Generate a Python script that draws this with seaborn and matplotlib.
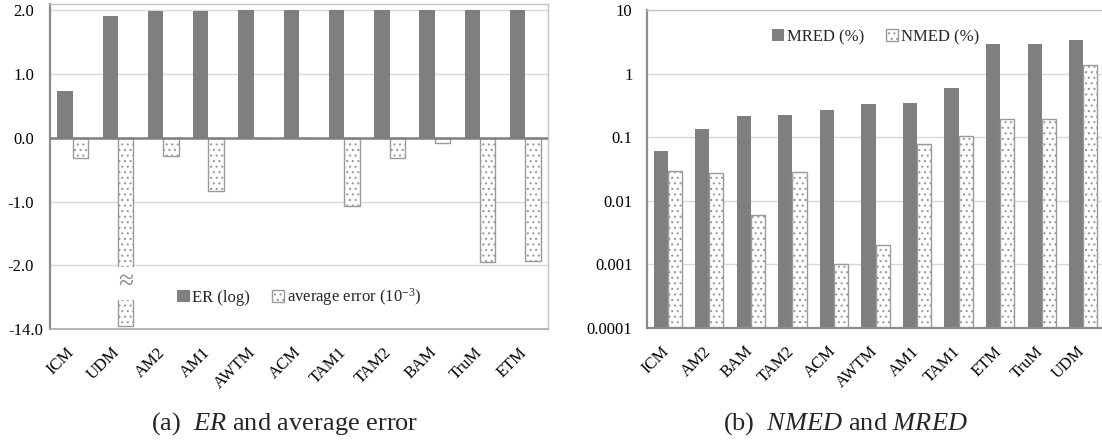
import numpy as np
import pandas as pd
import matplotlib
matplotlib.use("Agg")
import matplotlib.pyplot as plt
import seaborn as sns
from matplotlib.patches import Rectangle
from matplotlib.ticker import NullLocator
from matplotlib.transforms import ScaledTranslation

# ---- data -------------------------------------------------------------
er_methods = ["ICM", "UDM", "AM2", "AM1", "AWTM", "ACM", "TAM1", "TAM2", "BAM", "TruM", "ETM"]
er_log = [0.73, 1.91, 1.99, 1.99, 2.0, 2.0, 2.0, 2.0, 2.0, 2.0, 2.0]
avg_error = [-0.31, -13.4, -0.29, -0.83, 0.0, -0.01, -1.07, -0.31, -0.08, -1.95, -1.93]
er_yticks = [-14.0, -2.0, -1.0, 0.0, 1.0, 2.0]
er_yticklabels = ["-14.0", "-2.0", "-1.0", "0.0", "1.0", "2.0"]

red_methods = ["ICM", "AM2", "BAM", "TAM2", "ACM", "AWTM", "AM1", "TAM1", "ETM", "TruM", "UDM"]
mred = [0.060, 0.134, 0.214, 0.222, 0.266, 0.334, 0.340, 0.586, 2.90, 2.90, 3.36]
nmed = [0.029, 0.027, 0.006, 0.028, 0.001, 0.002, 0.079, 0.105, 0.195, 0.195, 1.38]
red_yticks = [1e-4, 1e-3, 1e-2, 1e-1, 1, 10]
red_yticklabels = ["0.0001", "0.001", "0.01", "0.1", "1", "10"]

ER_LABEL = "ER (log)"
AVG_LABEL = "average error (10$^{-3}$)"
MRED_LABEL = "MRED (%)"
NMED_LABEL = "NMED (%)"

# ---- style ------------------------------------------------------------
sns.set_theme(style="white")
plt.rcParams["font.family"] = ["Liberation Serif", "DejaVu Serif"]
plt.rcParams["mathtext.fontset"] = "custom"
plt.rcParams["mathtext.rm"] = "Liberation Serif"
plt.rcParams["mathtext.it"] = "Liberation Serif:italic"
plt.rcParams["hatch.linewidth"] = 0.8

DARK = "#7f7f7f"
EDGE = "#9a9a9a"
GRID = "#d9d9d9"
SPINE_DARK = "#8c8c8c"
SPINE_LIGHT = "#c4c4c4"
TICK_FS = 12

W, H = 1102, 442
fig = plt.figure(figsize=(W / 100, H / 100), dpi=100)
ax1 = fig.add_axes([50 / W, 113 / H, 498 / W, 325 / H])
ax2 = fig.add_axes([647 / W, 114 / H, 457 / W, 318 / H])


def style_pair(ax):
    dark, dotted = ax.containers[0], ax.containers[1]
    for p in dark:
        p.set_facecolor(DARK)
        p.set_edgecolor("none")
        p.set_linewidth(0)
    for p in dotted:
        p.set_facecolor("white")
        p.set_edgecolor(EDGE)
        p.set_linewidth(1.0)
        p.set_hatch("...")
    return dark, dotted


# ---- (a) ER and average error ----------------------------------------
df_er = pd.DataFrame({
    "method": er_methods * 2,
    "value": er_log + avg_error,
    "series": [ER_LABEL] * len(er_methods) + [AVG_LABEL] * len(er_methods),
})
sns.barplot(data=df_er, x="method", y="value", hue="series",
            palette=[DARK, "white"], width=0.68, gap=0, saturation=1,
            errorbar=None, legend=False, ax=ax1)
dark1, dotted1 = style_pair(ax1)

# broken axis below -2: the range -2 .. -14 is squeezed into one unit
def fwd(v):
    v = np.asarray(v, dtype=float)
    return np.where(v >= -2, v, -2 + (v + 2) / 12.0)


def inv(d):
    d = np.asarray(d, dtype=float)
    return np.where(d >= -2, d, -2 + (d + 2) * 12.0)


ax1.set_yscale("function", functions=(fwd, inv))
ax1.set_ylim(-14, 2.1)
ax1.set_xlim(-0.5, len(er_methods) - 0.5)
ax1.set_yticks(er_yticks)
ax1.set_yticklabels(er_yticklabels)
ax1.yaxis.set_minor_locator(NullLocator())
ax1.yaxis.grid(True, color=GRID, lw=1)
ax1.set_axisbelow(True)
ax1.axhline(0, color="#808080", lw=1.8, zorder=3)

# break marker on the long UDM bar
udm = dotted1[er_methods.index("UDM")]
lo, hi = float(inv(-2.54)), float(inv(-2.025))
ax1.add_patch(Rectangle((udm.get_x() - 0.03, lo), udm.get_width() + 0.06, hi - lo,
                        facecolor="white", edgecolor="none", zorder=udm.get_zorder() + 0.5))
ax1.text(udm.get_x() + udm.get_width() / 2, float(inv(-2.27)), "≈",
         ha="center", va="center", color="#8a8a8a", fontsize=20,
         zorder=udm.get_zorder() + 1)

ax1.legend([dark1[0], dotted1[0]], [ER_LABEL, AVG_LABEL], loc="center",
           bbox_to_anchor=(0.5, 32 / 325), ncol=2, frameon=False,
           handlelength=0.75, handleheight=0.75, handletextpad=0.15,
           columnspacing=1.3, fontsize=12, borderaxespad=0)

# ---- (b) NMED and MRED ------------------------------------------------
df_red = pd.DataFrame({
    "method": red_methods * 2,
    "value": mred + nmed,
    "series": [MRED_LABEL] * len(red_methods) + [NMED_LABEL] * len(red_methods),
})
sns.barplot(data=df_red, x="method", y="value", hue="series",
            palette=[DARK, "white"], width=0.68, gap=0, saturation=1,
            errorbar=None, legend=False, ax=ax2)
dark2, dotted2 = style_pair(ax2)
ax2.set_yscale("log")
ax2.set_ylim(1e-4, 10)
ax2.set_xlim(-0.5, len(red_methods) - 0.5)
ax2.set_yticks(red_yticks)
ax2.set_yticklabels(red_yticklabels)
ax2.yaxis.set_minor_locator(NullLocator())
ax2.yaxis.grid(True, color=GRID, lw=1)
ax2.set_axisbelow(True)

ax2.legend([dark2[0], dotted2[0]], [MRED_LABEL, NMED_LABEL], loc="center",
           bbox_to_anchor=(0.5, 1 - 27 / 318), ncol=2, frameon=False,
           handlelength=0.75, handleheight=0.75, handletextpad=0.15,
           columnspacing=1.3, fontsize=12, borderaxespad=0)

# ---- shared axis cosmetics -------------------------------------------
for ax, ypad, bottom_col in ((ax1, 11.5, "#a8a8a8"), (ax2, 10.5, SPINE_DARK)):
    ax.set_xlabel("")
    ax.set_ylabel("")
    for side in ("top", "right"):
        ax.spines[side].set_color(SPINE_LIGHT)
        ax.spines[side].set_linewidth(1.0)
    ax.spines["left"].set_color(SPINE_DARK)
    ax.spines["left"].set_linewidth(1.6)
    ax.spines["bottom"].set_color(bottom_col)
    ax.spines["bottom"].set_linewidth(1.6 if ax is ax2 else 1.2)
    ax.tick_params(axis="y", length=0, pad=ypad, labelsize=TICK_FS, labelcolor="black")
    ax.tick_params(axis="x", length=0, pad=11, labelsize=TICK_FS, labelcolor="black",
                   labelrotation=45)
    shift = ScaledTranslation(5 / 100, 0, fig.dpi_scale_trans)
    for lbl in ax.get_xticklabels():
        lbl.set_ha("right")
        lbl.set_transform(lbl.get_transform() + shift)

# the "-14.0" label of the broken axis sits a little further right
low_lbl = ax1.get_yticklabels()[0]
low_lbl.set_transform(low_lbl.get_transform() + ScaledTranslation(9 / 100, 0, fig.dpi_scale_trans))

# ---- captions ---------------------------------------------------------
fig.text(285 / W, 18.5 / H, "(a)  $\\mathit{ER}$ and average error",
         ha="center", va="center", fontsize=19)
fig.text(845 / W, 18.5 / H, "(b)  $\\mathit{NMED}$ and $\\mathit{MRED}$",
         ha="center", va="center", fontsize=19)

fig.savefig("out.png", dpi=100)
